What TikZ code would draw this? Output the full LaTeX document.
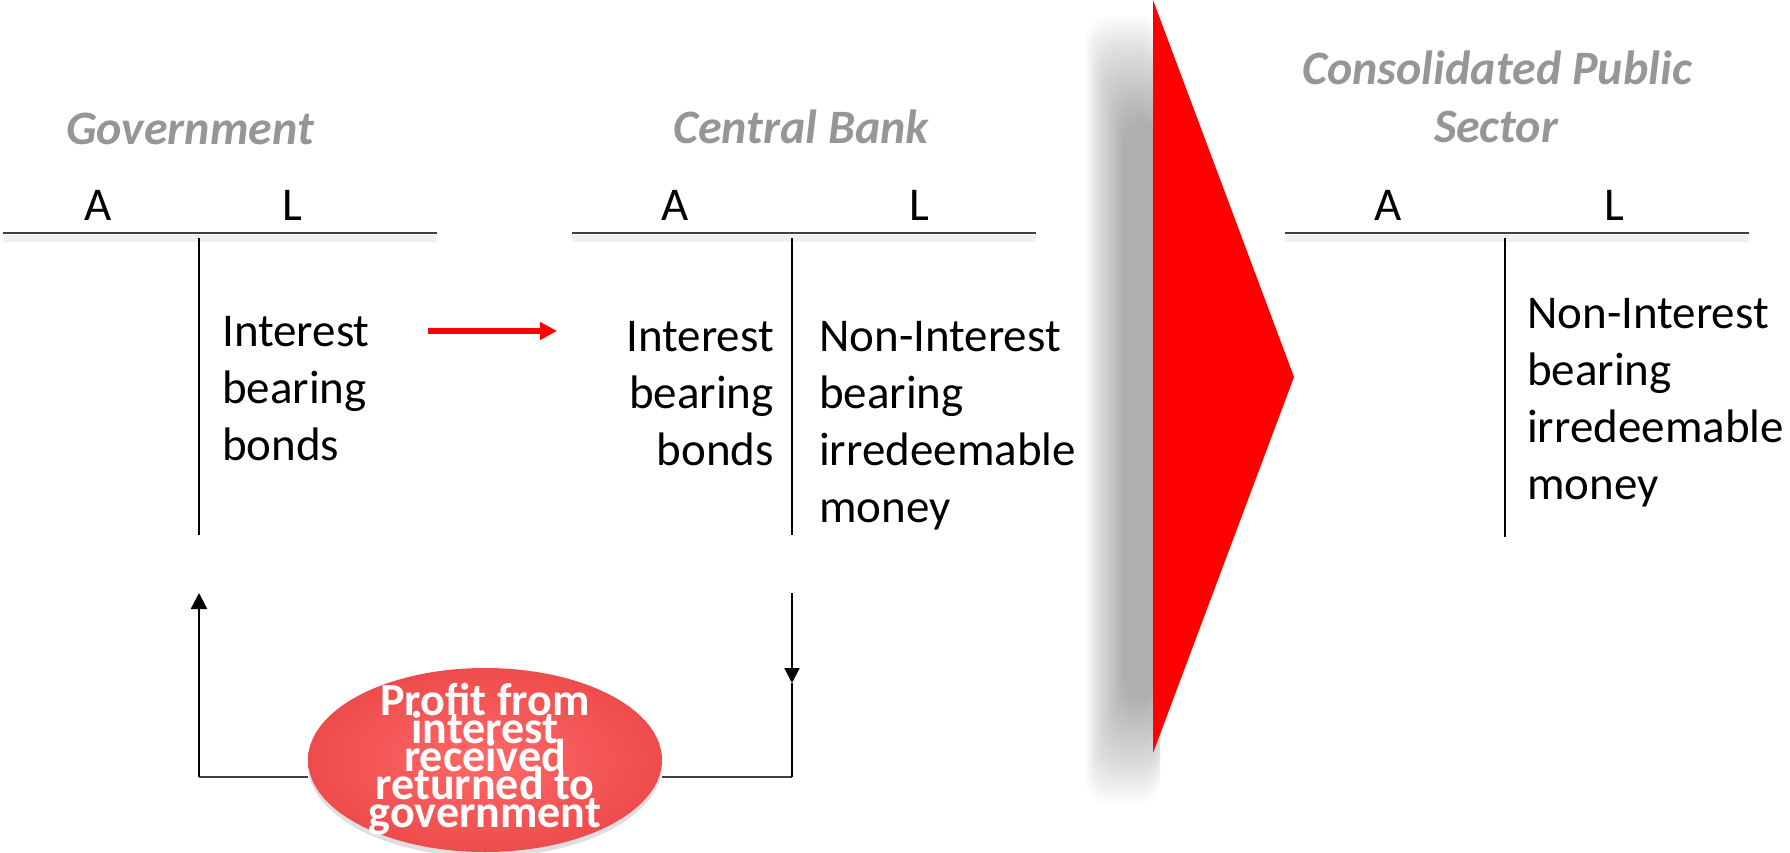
\documentclass[tikz,border=0pt]{standalone}
\usepackage{fontspec}
\setmainfont{Carlito}
\usetikzlibrary{arrows.meta,shadows,shapes.geometric}
\pgfdeclarelayer{bg}
\pgfsetlayers{bg,main}
\definecolor{titlegray}{RGB}{150,150,150}
\definecolor{linegray}{RGB}{64,64,64}
\definecolor{ellin}{RGB}{255,104,104}
\definecolor{ellout}{RGB}{238,76,76}
\newcommand\mytightlines{\lineskiplimit=-100pt\relax\lineskip=0pt\relax}
\tikzset{
  title/.style={font=\fontsize{48}{52}\selectfont\bfseries\itshape, text=titlegray, inner sep=0pt, align=center},
  allabel/.style={font=\fontsize{47}{56}\selectfont, inner sep=0pt},
  body/.style={font=\fontsize{47}{57}\selectfont, inner sep=0pt},
  hline/.style={draw=linegray, line width=2pt},
  hshadow/.style={draw=black, opacity=0.06, line width=7pt},
  vline/.style={draw=black, line width=1.6pt},
  redarrow/.style={draw=red, line width=6pt, -{Triangle[width=17pt,length=17pt]}},
  looparrow/.style={draw=black, line width=2.5pt, -{Triangle[width=16pt,length=16pt]}},
  loopline/.style={draw=linegray, line width=2pt},
  profitshape/.style={ellipse, minimum width=354pt, minimum height=184pt, inner sep=0pt,
    inner color=ellin, outer color=ellout,
    drop shadow={shadow xshift=0pt, shadow yshift=-5pt, opacity=0.25}},
  profittext/.style={font=\fontsize{46}{28}\selectfont\bfseries\mytightlines,
    text=white, align=center, inner sep=0pt}
}
\begin{document}
\begin{tikzpicture}[x=1pt,y=-1pt]
\useasboundingbox (0,0) rectangle (1790,853);

% triangle shadow
\foreach \i in {0,...,23}{
  \fill[black, opacity=0.015, rounded corners=24pt] (1086+\i*1.6,16+\i*4.5) rectangle (1160,804-\i*4.5);
}
\fill[red] (1153,0) -- (1294,377) -- (1153,753) -- cycle;

% titles
\node[title, anchor=base] (govt) at (190,145) {Government};
\node[title, anchor=base] (cbank) at (801,144) {Central Bank};
\node[title, anchor=base] (cps1) at (1497,85) {Consolidated Public};
\node[title, anchor=base] (cps2) at (1496,143) {Sector};

% A / L labels
\node[allabel, anchor=base] (gA) at (98,220) {A};
\node[allabel, anchor=base] (gL) at (292,220) {L};
\node[allabel, anchor=base] (cA) at (675,221) {A};
\node[allabel, anchor=base] (cL) at (919,221) {L};
\node[allabel, anchor=base] (pA) at (1388,220) {A};
\node[allabel, anchor=base] (pL) at (1614,220) {L};

% T-account lines
\coordinate (g1) at (3,233);   \coordinate (g2) at (437,233);
\coordinate (c1) at (572,233); \coordinate (c2) at (1036,233);
\coordinate (p1) at (1285,233);\coordinate (p2) at (1749,233);
\foreach \a/\b in {g1/g2,c1/c2,p1/p2}{
  \draw[hshadow] ([yshift=-5pt]\a) -- ([yshift=-5pt]\b);
  \draw[hline] (\a) -- (\b);
}
\coordinate (gv1) at (199,238); \coordinate (gv2) at (199,535);
\coordinate (cv1) at (792,238); \coordinate (cv2) at (792,535);
\coordinate (pv1) at (1505,238); \coordinate (pv2) at (1505,537);
\draw[vline] (gv1) -- (gv2);
\draw[vline] (cv1) -- (cv2);
\draw[vline] (pv1) -- (pv2);

% body texts (base anchor = baseline of last line)
\node[body, anchor=base west, align=left] (gbonds) at (222,460) {Interest\\bearing\\bonds};
\node[body, anchor=base east, align=right] (cbonds) at (774,465) {Interest\\bearing\\bonds};
\node[body, anchor=base west, align=left] (cmoney) at (819,522) {Non-Interest\\bearing\\irredeemable\\money};
\node[body, anchor=base west, align=left] (pmoney) at (1527,499) {Non-Interest\\bearing\\irredeemable\\money};

% red transfer arrow
\coordinate (ra1) at (428,331);
\coordinate (ra2) at (557,331);
\draw[redarrow] (ra1) -- (ra2);

% loop
\node[profitshape] (profit) at (485,760) {};
\node[profittext, anchor=base] (profitlbl) at (485,827) {Profit from\\interest\\received\\returned to\\government};
\coordinate (gup) at (199,593);
\coordinate (gcorner) at (199,777);
\coordinate (ctop) at (792,593);
\coordinate (cmid) at (792,683);
\coordinate (ccorner) at (792,777);
\draw[looparrow] (gcorner) -- (gup);
\draw[looparrow, line width=2pt, -{Triangle[width=15pt,length=15pt]}] (ctop) -- (cmid);
\draw[loopline, draw=black] (cmid) -- (ccorner);
\begin{pgfonlayer}{bg}
\draw[loopline] (gcorner) -- (profit.west |- gcorner);
\draw[loopline] (ccorner) -- (profit.east |- ccorner);
\end{pgfonlayer}
\end{tikzpicture}
\end{document}
